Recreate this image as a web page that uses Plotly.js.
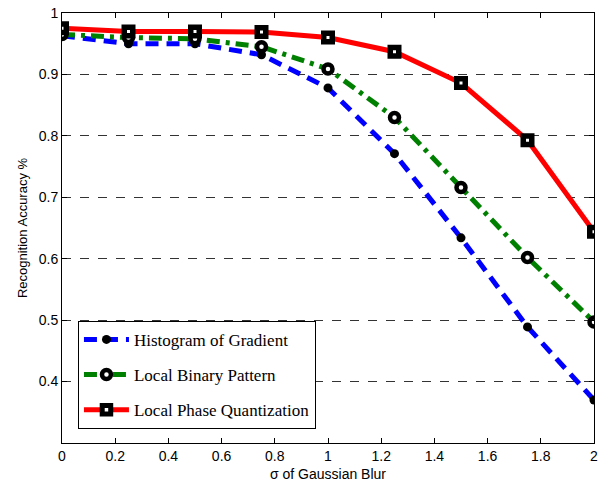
<!DOCTYPE html>
<html><head><meta charset="utf-8">
<script src="https://cdn.plot.ly/plotly-3.0.1.min.js"></script>
<style>body{margin:0;background:#fff}#chart{width:600px;height:485px}</style>
</head><body><div id="chart"></div>
<script>
const sigma = [0, 0.25, 0.5, 0.75, 1, 1.25, 1.5, 1.75, 2];
const hog = [0.963, 0.95, 0.95, 0.932, 0.878, 0.771, 0.634, 0.489, 0.37];
const lbp = [0.965, 0.96, 0.958, 0.945, 0.909, 0.83, 0.716, 0.602, 0.497];
const lpq = [0.975, 0.97, 0.97, 0.969, 0.96, 0.937, 0.886, 0.793, 0.644];
const names = ['Histogram of Gradient', 'Local Binary Pattern', 'Local Phase Quantization'];
const xTicks = [0, 0.2, 0.4, 0.6, 0.8, 1, 1.2, 1.4, 1.6, 1.8, 2];
const yTicks = [0.4, 0.5, 0.6, 0.7, 0.8, 0.9, 1];

const traces = [
  {x: sigma, y: hog, name: names[0], legendgroup: 'a', mode: 'lines+markers',
   line: {color: '#0000ff', width: 5, dash: '13px,8px'},
   marker: {symbol: 'circle', size: 9, color: '#000'}},
  {x: sigma, y: lbp, name: names[1], legendgroup: 'b', mode: 'lines+markers',
   line: {color: '#008000', width: 5, dash: '13px,6px,4px,6px'},
   marker: {symbol: 'circle', size: 9, color: '#fff', line: {color: '#000', width: 4.5}}},
  {x: sigma, y: lpq, name: names[2], legendgroup: 'c', mode: 'lines+markers',
   line: {color: '#ff0000', width: 5},
   marker: {symbol: 'square', size: 8.5, color: '#fff', line: {color: '#000', width: 5.5}}}
];

const axisFont = {family: 'Liberation Sans, Arial, sans-serif', size: 14, color: '#000'};
const layout = {
  width: 600, height: 485,
  margin: {l: 62, r: 6, t: 13, b: 42},
  paper_bgcolor: '#fff', plot_bgcolor: '#fff',
  showlegend: true,
  legend: {x: 0.03, y: 0.284, xanchor: 'left', yanchor: 'top',
    bgcolor: '#fff', bordercolor: '#000', borderwidth: 1,
    font: {family: 'Liberation Serif, Times New Roman, serif', size: 17, color: '#000'},
    itemwidth: 45, tracegroupgap: 10},
  xaxis: {range: [0, 2], tickvals: xTicks, ticktext: xTicks.map(String),
    ticks: 'inside', ticklen: 5, tickcolor: '#000', showline: true, linecolor: '#000', linewidth: 1,
    mirror: 'ticks', showgrid: false, zeroline: false, tickfont: axisFont,
    title: {text: 'σ of Gaussian Blur', font: {family: 'Liberation Sans, Arial, sans-serif', size: 14, color: '#000'}, standoff: 6}},
  yaxis: {range: [0.3, 1], tickvals: yTicks, ticktext: yTicks.map(String),
    ticks: 'inside', ticklen: 5, tickcolor: '#000', showline: true, linecolor: '#000', linewidth: 1,
    mirror: 'ticks', showgrid: true, gridcolor: '#333', griddash: 'dash', gridwidth: 1,
    zeroline: false, tickfont: axisFont,
    title: {text: 'Recognition Accuracy %', font: {family: 'Liberation Sans, Arial, sans-serif', size: 13, color: '#000'}, standoff: 8}}
};
Plotly.newPlot('chart', traces, layout, {displayModeBar: false, staticPlot: true});
</script></body></html>
